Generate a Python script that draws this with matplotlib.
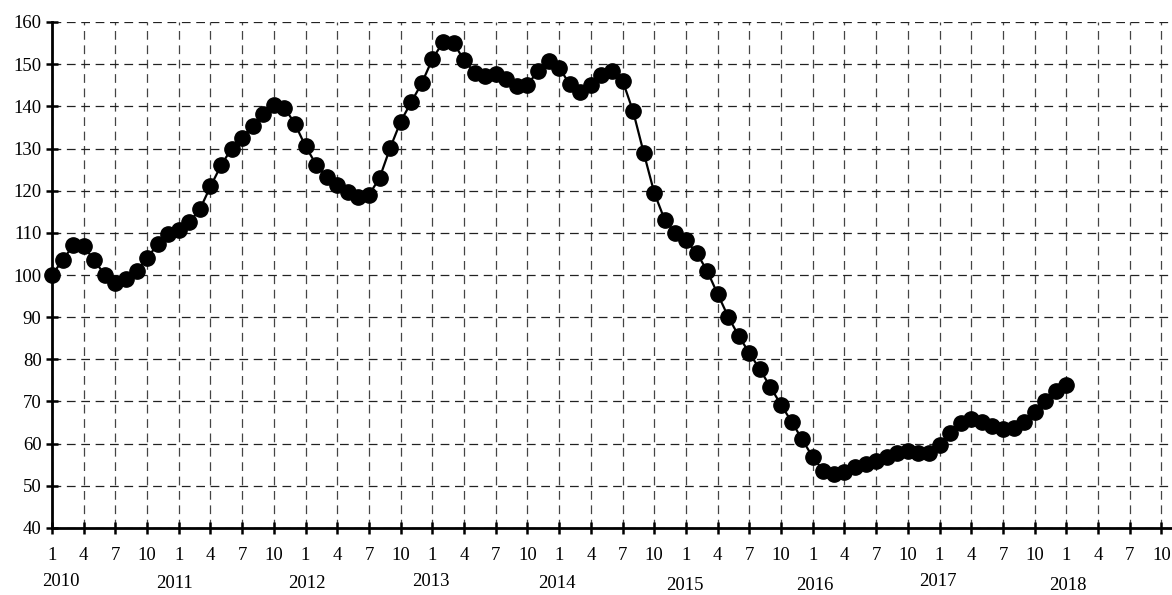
import matplotlib
matplotlib.use("Agg")
import matplotlib.pyplot as plt
import matplotlib.transforms as mtransforms
import numpy as np

plt.rcParams['font.family'] = ['Liberation Serif', 'DejaVu Serif']

# monthly index values, 2010-01 .. 2018-01
values = [100.0, 103.5, 107.0, 106.8, 103.5, 100.0, 98.0, 99.0, 101.0, 104.0, 107.3, 109.8,
          110.6, 112.5, 115.6, 121.0, 126.0, 130.0, 132.6, 135.4, 138.3, 140.4, 139.7, 135.8,
          130.5, 126.2, 123.2, 121.4, 119.8, 118.6, 119.0, 123.0, 130.1, 136.4, 141.0, 145.5,
          151.2, 155.2, 155.0, 151.0, 148.0, 147.2, 147.6, 146.6, 144.8, 145.1, 148.4, 150.7,
          149.2, 145.2, 143.4, 145.0, 147.4, 148.3, 146.1, 138.8, 129.0, 119.5, 113.0, 110.0,
          108.2, 105.3, 101.0, 95.5, 90.1, 85.5, 81.5, 77.6, 73.4, 69.2, 65.2, 61.0,
          56.8, 53.6, 52.8, 53.2, 54.4, 55.2, 55.8, 56.9, 57.8, 58.2, 57.8, 57.9,
          59.8, 62.6, 65.0, 65.9, 65.2, 64.2, 63.4, 63.8, 65.2, 67.4, 70.2, 72.6,
          73.9]
years = [2010, 2011, 2012, 2013, 2014, 2015, 2016, 2017, 2018]
month_ticks = [1, 4, 7, 10]

x = np.arange(len(values))

fig = plt.figure(figsize=(11.72, 5.95), dpi=100)
ax = fig.add_axes([52/1172, 67/595, 1 - 52/1172, 506/595])

ax.plot(x, values, color='black', lw=1.6, marker='o', ms=11, mfc='black', mec='black', zorder=3,
        clip_on=False)

# axes
ax.set_xlim(0, 106)
ax.set_ylim(40, 160)
ax.set_yticks(np.arange(40, 161, 10))
xt = np.arange(0, 106, 3)
ax.set_xticks(xt)
ax.set_xticklabels([str(month_ticks[(i // 3) % 4]) for i in xt])

for s in ['top', 'right']:
    ax.spines[s].set_visible(False)
for s in ['left', 'bottom']:
    ax.spines[s].set_linewidth(2)

ax.tick_params(axis='both', direction='inout', length=9, width=1.8, labelsize=13.5, colors='black')
ax.tick_params(axis='x', pad=9)
ax.tick_params(axis='y', pad=3)

ax.grid(True, axis='y', color='#222222', linestyle=(0, (7, 4.5)), linewidth=0.9)
ax.grid(True, axis='x', color='#444444', linestyle=(0, (7, 4.5)), linewidth=0.9)
ax.set_axisbelow(True)

# year labels under the month ticks
trans = mtransforms.blended_transform_factory(ax.transData, fig.transFigure)
year_x = [0.8, 11.6, 24.1, 35.9, 47.8, 59.9, 72.2, 83.8, 96.1]
year_y = [582, 583, 583, 582, 584, 586, 585, 582, 585]
for yr, px, py in zip(years, year_x, year_y):
    ax.text(px, 1 - py/595, str(yr), transform=trans, ha='center', va='center', fontsize=13.5)

plt.savefig('out.png', dpi=100)
